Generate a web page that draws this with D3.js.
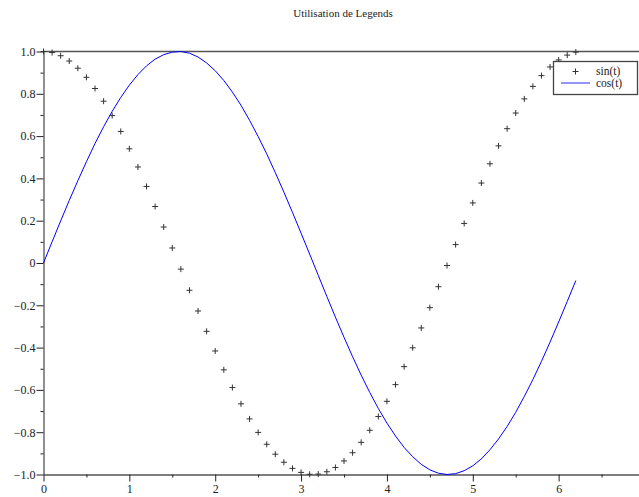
<!DOCTYPE html>
<html>
<head>
<meta charset="utf-8">
<script src="https://cdn.jsdelivr.net/npm/d3@7"></script>
<style>
  html, body { margin: 0; padding: 0; background: #fff; }
  svg { display: block; font-family: "Liberation Serif", "Times New Roman", serif; }
</style>
</head>
<body>
<svg id="chart" width="639" height="497"></svg>
<script>
// Sample abscissa
const tValues = [0,0.1,0.2,0.3,0.4,0.5,0.6,0.7,0.8,0.9,1.0,1.1,1.2,1.3,1.4,1.5,1.6,1.7,1.8,1.9,2.0,
  2.1,2.2,2.3,2.4,2.5,2.6,2.7,2.8,2.9,3.0,3.1,3.2,3.3,3.4,3.5,3.6,3.7,3.8,3.9,4.0,
  4.1,4.2,4.3,4.4,4.5,4.6,4.7,4.8,4.9,5.0,5.1,5.2,5.3,5.4,5.5,5.6,5.7,5.8,5.9,6.0,6.1,6.2];

// Series drawn with "+" markers
const markerValues = [1.000,0.995,0.980,0.955,0.921,0.878,0.825,0.765,0.697,0.622,0.540,
  0.454,0.362,0.267,0.170,0.071,-0.029,-0.129,-0.227,-0.323,-0.416,
  -0.505,-0.589,-0.666,-0.737,-0.801,-0.857,-0.904,-0.942,-0.971,-0.990,
  -0.999,-0.998,-0.987,-0.967,-0.936,-0.897,-0.848,-0.791,-0.726,-0.654,
  -0.575,-0.490,-0.401,-0.307,-0.211,-0.112,-0.012,0.087,0.187,0.284,
  0.378,0.469,0.554,0.635,0.709,0.776,0.835,0.886,0.927,0.960,0.983,0.997];

// Series drawn as a solid line
const lineValues = [0.000,0.100,0.199,0.296,0.389,0.479,0.565,0.644,0.717,0.783,0.841,
  0.891,0.932,0.964,0.985,0.997,1.000,0.992,0.974,0.946,0.909,
  0.863,0.808,0.746,0.675,0.598,0.516,0.427,0.335,0.239,0.141,
  0.042,-0.058,-0.158,-0.256,-0.351,-0.443,-0.530,-0.612,-0.688,-0.757,
  -0.818,-0.872,-0.916,-0.952,-0.978,-0.994,-1.000,-0.996,-0.982,-0.959,
  -0.926,-0.883,-0.832,-0.773,-0.706,-0.631,-0.551,-0.465,-0.374,-0.279,-0.182,-0.083];

const seriesNames = ["sin(t)", "cos(t)"];
const xTicks = [0,1,2,3,4,5,6];
const xMinorTicks = [0.5,1.5,2.5,3.5,4.5,5.5,6.5];
const yTicks = [1.0,0.8,0.6,0.4,0.2,0,-0.2,-0.4,-0.6,-0.8,-1.0];
const yMinorTicks = [0.9,0.7,0.5,0.3,0.1,-0.1,-0.3,-0.5,-0.7,-0.9];
const titleText = "Utilisation de Legends";

const serif = "Liberation Serif, Times New Roman, serif";
const svg = d3.select("#chart");
const x = d3.scaleLinear().domain([0, 7]).range([43.5, 644.5]);
const y = d3.scaleLinear().domain([-1, 1]).range([474.5, 51.5]);

const axisColor = "#555";
const fmtY = v => v === 0 ? "0" : d3.format(".1f")(v).replace("-", "\u2212");

// Title
svg.append("text").attr("x", 343).attr("y", 17).attr("text-anchor", "middle")
  .attr("font-size", 11).attr("fill", "#222").text(titleText);

// Top frame line
svg.append("line").attr("x1", x(0)).attr("x2", 639).attr("y1", y(1)).attr("y2", y(1))
  .attr("stroke", axisColor).attr("stroke-width", 1.3);

// Y axis
const yAxis = d3.axisLeft(y).tickValues(yTicks).tickSize(7).tickFormat(fmtY).tickSizeOuter(0);
const gy = svg.append("g").attr("transform", `translate(${x(0)},0)`).call(yAxis)
  .attr("font-family", serif).attr("font-size", 12);
gy.select(".domain").attr("stroke", axisColor).attr("stroke-width", 1.3);
gy.selectAll(".tick line").attr("stroke", "#222");
gy.selectAll(".tick text").attr("fill", "#222").attr("x", -8);
const yMinor = d3.axisLeft(y).tickValues(yMinorTicks).tickSize(3).tickFormat("").tickSizeOuter(0);
const gym = svg.append("g").attr("transform", `translate(${x(0)},0)`).call(yMinor);
gym.select(".domain").remove();
gym.selectAll(".tick line").attr("stroke", "#222");

// X axis
const xAxis = d3.axisBottom(x).tickValues(xTicks).tickSize(7).tickFormat(d3.format("d")).tickSizeOuter(0);
const gx = svg.append("g").attr("transform", `translate(0,${y(-1)})`).call(xAxis)
  .attr("font-family", serif).attr("font-size", 12);
gx.select(".domain").attr("stroke", axisColor).attr("stroke-width", 1.3);
gx.selectAll(".tick line").attr("stroke", "#222");
gx.selectAll(".tick text").attr("fill", "#222").attr("y", 10);
const xMinor = d3.axisBottom(x).tickValues(xMinorTicks).tickSize(3).tickFormat("").tickSizeOuter(0);
const gxm = svg.append("g").attr("transform", `translate(0,${y(-1)})`).call(xMinor);
gxm.select(".domain").remove();
gxm.selectAll(".tick line").attr("stroke", "#222");

// Solid curve
const lineData = tValues.map((t, i) => [t, lineValues[i]]);
svg.append("path").datum(lineData)
  .attr("fill", "none").attr("stroke", "#0000ff").attr("stroke-width", 1)
  .attr("d", d3.line().x(d => x(d[0])).y(d => y(d[1])));

// "+" markers
const plusPath = "M-3,0H3M0,-3V3";
svg.append("g").selectAll("path").data(tValues.map((t, i) => [t, markerValues[i]]))
  .join("path")
  .attr("transform", d => `translate(${x(d[0])},${y(d[1])})`)
  .attr("d", plusPath).attr("stroke", "#333").attr("stroke-width", 1).attr("fill", "none");

// Legend
const lg = svg.append("g");
lg.append("rect").attr("x", 553.5).attr("y", 61.5).attr("width", 84).attr("height", 33)
  .attr("fill", "#fff").attr("stroke", "#444").attr("stroke-width", 1.3);
lg.append("path").attr("transform", "translate(575.5,71.5)").attr("d", plusPath)
  .attr("stroke", "#333").attr("fill", "none");
lg.append("line").attr("x1", 561).attr("x2", 590).attr("y1", 83).attr("y2", 83)
  .attr("stroke", "#7070ff").attr("stroke-width", 1.5);
lg.append("text").attr("x", 596).attr("y", 75).attr("font-size", 11.5).attr("fill", "#222").text(seriesNames[0]);
lg.append("text").attr("x", 596).attr("y", 87).attr("font-size", 11.5).attr("fill", "#222").text(seriesNames[1]);
</script>
</body>
</html>
